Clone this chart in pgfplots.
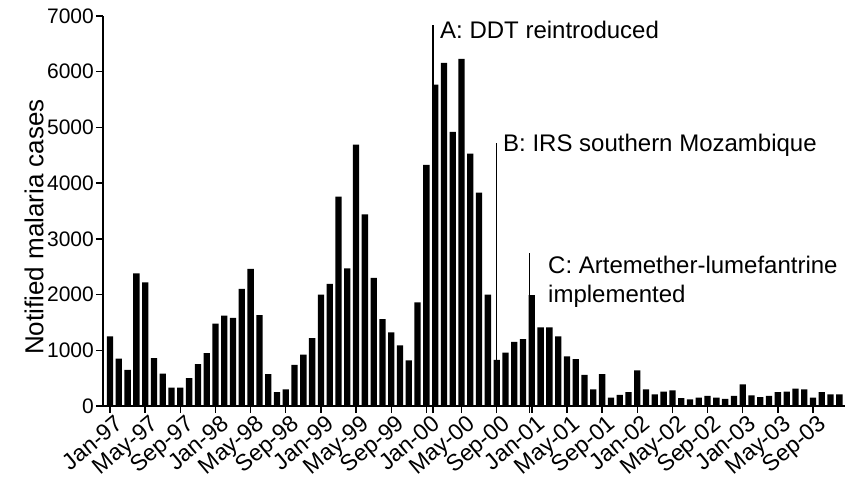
\documentclass[border=0pt]{standalone}
\usepackage{fontspec}
\setmainfont{Liberation Sans}
\usepackage{pgfplots}
\usepackage{pgfplotstable}
\pgfplotsset{compat=1.18}
\usetikzlibrary{calc}

% monthly notified cases, Jan-97 (0) to Dec-03 (83)
\pgfplotstableread{
m cases
0 1250
1 850
2 650
3 2380
4 2220
5 860
6 580
7 330
8 330
9 500
10 750
11 950
12 1480
13 1620
14 1580
15 2100
16 2460
17 1630
18 570
19 250
20 300
21 740
22 920
23 1220
24 2000
25 2190
26 3760
27 2470
28 4690
29 3440
30 2300
31 1560
32 1320
33 1090
34 820
35 1860
36 4330
37 5770
38 6160
39 4920
40 6230
41 4530
42 3830
43 2000
44 830
45 960
46 1150
47 1200
48 1990
49 1410
50 1410
51 1250
52 890
53 840
54 560
55 300
56 570
57 150
58 200
59 250
60 640
61 300
62 210
63 260
64 280
65 140
66 120
67 150
68 180
69 150
70 130
71 180
72 390
73 190
74 160
75 180
76 250
77 260
78 310
79 300
80 150
81 250
82 210
83 210
}\malaria

\begin{document}
\begin{tikzpicture}
\begin{axis}[
  name=ax,
  at={(0,0)}, anchor=south west,
  scale only axis,
  width=742pt, height=390pt,
  xmin=-0.8, xmax=83.64,
  ymin=0, ymax=7000,
  enlargelimits=false,
  axis lines*=left,
  axis line style={line width=1.6pt},
  ytick={0,1000,...,7000},
  xtick={0,4,...,80},
  xticklabels={Jan-97,May-97,Sep-97,Jan-98,May-98,Sep-98,Jan-99,May-99,Sep-99,Jan-00,May-00,Sep-00,Jan-01,May-01,Sep-01,Jan-02,May-02,Sep-02,Jan-03,May-03,Sep-03},
  tick align=outside,
  major tick length=7pt,
  tick style={line width=1.4pt, black},
  /pgf/number format/assume math mode=true,
  /pgf/number format/1000 sep={},
  yticklabel style={font=\fontsize{21}{21}\selectfont, inner sep=2pt},
  xticklabel style={font=\fontsize{23}{23}\selectfont, rotate=40, anchor=north east, inner sep=1pt, xshift=4pt, yshift=-2pt},
  ylabel={Notified malaria cases},
  ylabel style={font=\fontsize{26}{26}\selectfont, at={(axis description cs:-0.093,0.459)}, anchor=center},
  clip=false,
]
\draw[line width=1.3pt] (axis cs:36.75,-130) -- (axis cs:36.75,6838);
\draw[line width=1.3pt] (axis cs:44.0,-130) -- (axis cs:44.0,4720);
\draw[line width=1.3pt] (axis cs:47.75,-130) -- (axis cs:47.75,2746);
\addplot[ybar, bar width=6.3pt, fill=black, draw=none] table[x=m, y=cases] {\malaria};
\node[anchor=base west, inner sep=0pt, font=\fontsize{24}{24}\selectfont] at (axis cs:37.55,6605) {A: DDT reintroduced};
\node[anchor=base west, inner sep=0pt, font=\fontsize{24}{24}\selectfont] at (axis cs:44.72,4564) {B: IRS southern Mozambique};
\node[anchor=base west, inner sep=0pt, font=\fontsize{24}{24}\selectfont] at (axis cs:49.84,2387) {C: Artemether-lumefantrine};
\node[anchor=base west, inner sep=0pt, font=\fontsize{24}{24}\selectfont] at (axis cs:49.84,1849) {implemented};
\end{axis}
\pgfresetboundingbox
\path ($(ax.south west)+(-103pt,-77pt)$) rectangle ($(ax.north east)+(0pt,16pt)$);
\end{tikzpicture}
\end{document}
